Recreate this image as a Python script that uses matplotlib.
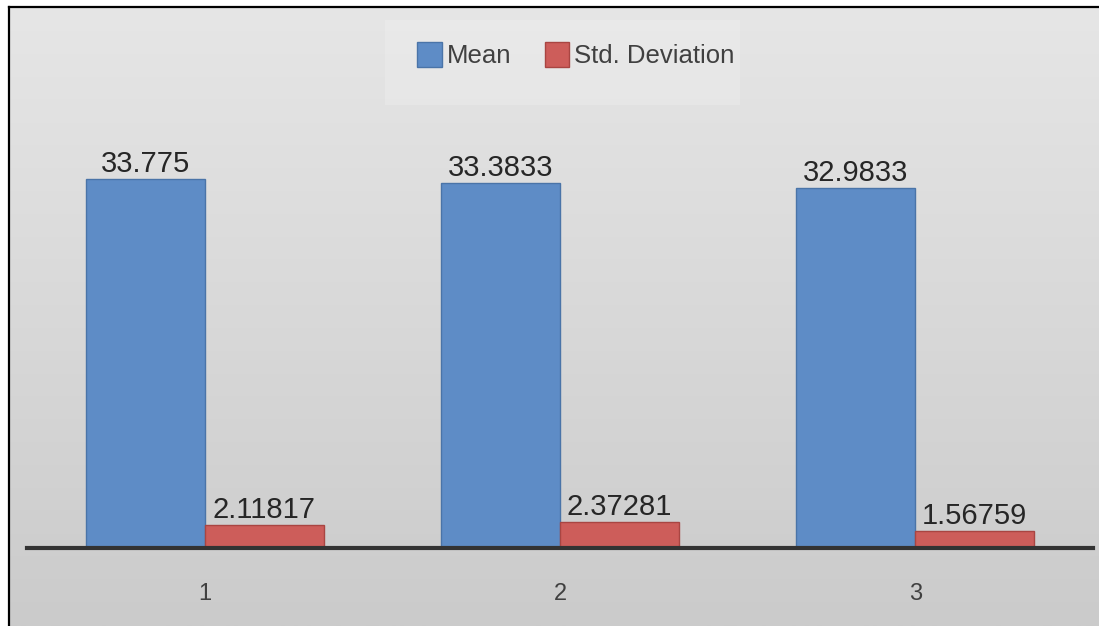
import matplotlib.pyplot as plt
import numpy as np
from matplotlib.patches import Patch
from matplotlib.lines import Line2D
from matplotlib.colors import LinearSegmentedColormap

groups = ['1', '2', '3']
mean_vals = [33.775, 33.3833, 32.9833]
std_vals = [2.11817, 2.37281, 1.56759]
mean_labels = ['33.775', '33.3833', '32.9833']
std_labels = ['2.11817', '2.37281', '1.56759']

blue = '#5e8cc6'
blue_edge = '#4a74a8'
red = '#cd5d5a'
red_edge = '#a94542'
txt = '#262626'

plt.rcParams['font.family'] = ['Liberation Sans', 'DejaVu Sans']

fig = plt.figure(figsize=(10.99, 6.26), dpi=100)
W, H = 1099, 626

# gray gradient backdrop inside the frame
bg = fig.add_axes([9 / W, 0, 1 - 9 / W, (H - 7) / H], zorder=0)
grad = np.linspace(0, 1, 256).reshape(-1, 1)
bg.imshow(grad, aspect='auto', cmap=LinearSegmentedColormap.from_list('g', ['#e6e6e6', '#cbcbcb']),
          extent=[0, 1, 0, 1], origin='upper')
bg.set_xlim(0, 1)
bg.set_ylim(0, 1)
bg.axis('off')

# faint lighter panel behind the legend
bg.add_patch(plt.Rectangle(((385 - 9) / (W - 9), 1 - (105 - 7) / (H - 7)),
                           355 / (W - 9), 85 / (H - 7),
                           facecolor='#f1f1f1', edgecolor='none', alpha=0.35))

# frame lines along top and left
fig.add_artist(Line2D([9 / W, 1], [1 - 7 / H, 1 - 7 / H], color='black', lw=1.6))
fig.add_artist(Line2D([9 / W, 9 / W], [0, 1 - 7 / H], color='black', lw=1.6))

ax = fig.add_axes([27 / W, (H - 548) / H, 1066 / W, 448 / H], zorder=1)
ax.patch.set_alpha(0)

x = np.arange(1, len(groups) + 1)
w = 0.335
ax.bar(x - w / 2, mean_vals, w, color=blue, edgecolor=blue_edge, linewidth=1.0, zorder=2)
ax.bar(x + w / 2, std_vals, w, color=red, edgecolor=red_edge, linewidth=1.0, zorder=2)

for xi, v, s in zip(x - w / 2, mean_vals, mean_labels):
    ax.annotate(s, (xi, v), xytext=(0, 5), textcoords='offset points',
                ha='center', va='baseline', fontsize=21, color=txt)
for xi, v, s in zip(x + w / 2, std_vals, std_labels):
    ax.annotate(s, (xi, v), xytext=(0, 5), textcoords='offset points',
                ha='center', va='baseline', fontsize=21, color=txt)

ax.set_xlim(0.5, 3.5)
ax.set_ylim(0, 41)
ax.axhline(0, color='#333333', lw=3, zorder=3, clip_on=False)
for sp in ax.spines.values():
    sp.set_visible(False)
ax.set_yticks([])
ax.set_xticks(x)
ax.set_xticklabels(groups, fontsize=17, color='#404040')
ax.tick_params(axis='x', length=0, pad=25)

handles = [Patch(facecolor=blue, edgecolor=blue_edge, label='Mean'),
           Patch(facecolor=red, edgecolor=red_edge, label='Std. Deviation')]
leg = fig.legend(handles=handles, loc='center', bbox_to_anchor=(576 / W, 1 - 55 / H),
                 ncol=2, frameon=False, fontsize=18.5, handlelength=0.95, handleheight=1.1,
                 handletextpad=0.2, columnspacing=1.3)
for t in leg.get_texts():
    t.set_color('#404040')

fig.savefig('out.png', dpi=100, facecolor='white')
